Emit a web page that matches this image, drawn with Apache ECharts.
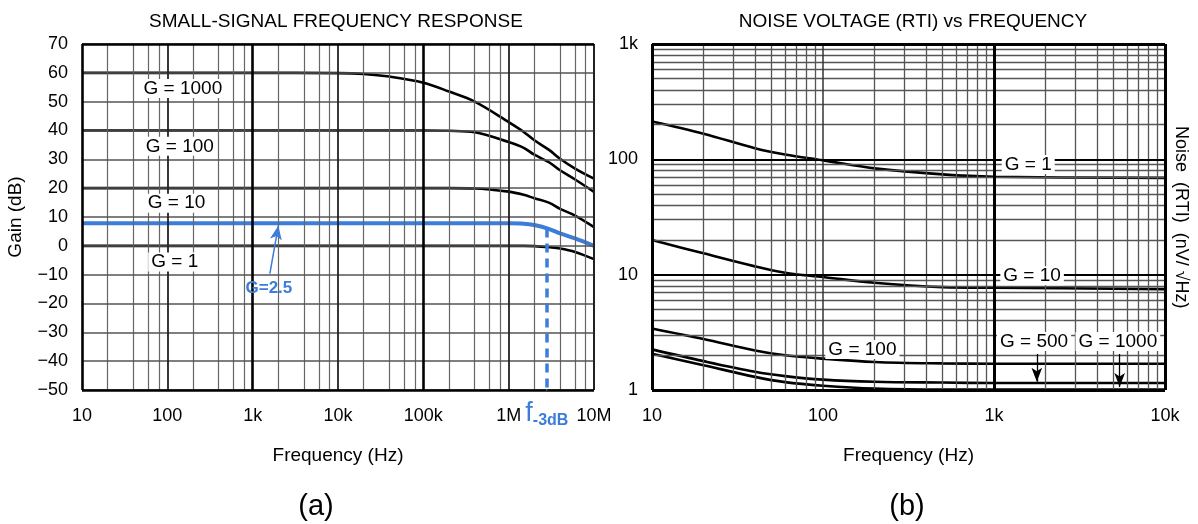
<!DOCTYPE html>
<html><head><meta charset="utf-8">
<script src="https://cdn.jsdelivr.net/npm/echarts@6/dist/echarts.min.js"></script>
<style>html,body{margin:0;padding:0;background:#fff}#c{width:1198px;height:524px}</style>
</head><body><div id="c"></div>
<script>
const FONT = '"Liberation Sans", Arial, sans-serif';
const BLUE = '#3b7dd8';

// ---------- (a) Small-signal frequency response ----------
const gainFreq  = [10, 100, 1e3, 1e4, 2e4, 4e4, 1e5, 2e5, 4e5, 1e6, 1.5e6, 2e6, 3e6, 4e6, 6e6, 1e7];
const gainG1000 = [60, 60, 60, 59.9, 59.6, 58.7, 56.6, 53.5, 50.0, 42.9, 39.5, 36.6, 33.2, 30.2, 26.8, 23.3];
const gainG100  = [40, 40, 40, 40, 40, 40, 40, 39.9, 39.4, 36.0, 34.0, 31.6, 28.9, 26.2, 23.0, 18.7];
const gainG10   = [20, 20, 20, 20, 20, 20, 20, 20, 19.9, 18.8, 17.7, 16.5, 14.9, 12.8, 10.5, 6.5];
const gainG2p5  = [7.8, 7.8, 7.8, 7.8, 7.8, 7.8, 7.8, 7.8, 7.8, 7.8, 7.7, 7.2, 5.8, 4.3, 2.6, 0];
const gainG1    = [0, 0, 0, 0, 0, 0, 0, 0, 0, 0, 0, -0.1, -0.5, -0.9, -2.1, -4.6];
const gainTicks = [-50, -40, -30, -20, -10, 0, 10, 20, 30, 40, 50, 60, 70];
const gainXTickLabels = {10:'10', 100:'100', 1000:'1k', 10000:'10k', 100000:'100k', 1000000:'1M', 10000000:'10M'};
const gainDecades = [10, 100, 1e3, 1e4, 1e5, 1e6, 1e7];
const f3dB = 2.8e6, f3dBGain = 6.0;
const gainLabels = [
  {name:'G = 1000', value:[152, 54.6]},
  {name:'G = 100',  value:[140, 34.5]},
  {name:'G = 10',   value:[128, 14.8]},
  {name:'G = 1',    value:[122, -5.6]}
];
const gainArrow = [[1590, -9.6], [2000, 7.0]];
const gainArrowLabel = {name:'G=2.5', value:[1550, -14.6]};

// ---------- (b) Noise voltage vs frequency ----------
const noiseFreq  = [10, 20, 40, 60, 100, 200, 500, 1000, 10000];
const noiseG1    = [213, 167, 125, 110, 98, 83.5, 74, 70.6, 69];
const noiseG10   = [20, 15.3, 11.8, 10.4, 9.55, 8.5, 7.8, 7.7, 7.5];
const noiseG100  = [3.42, 2.77, 2.2, 2.0, 1.87, 1.75, 1.7, 1.69, 1.69];
const noiseG500  = [2.25, 1.78, 1.44, 1.32, 1.23, 1.18, 1.16, 1.15, 1.15];
const noiseG1000 = [2.06, 1.64, 1.30, 1.17, 1.09, 1.03, 1.01, 1.01, 1.01];
const noiseXTickLabels = {10:'10', 100:'100', 1000:'1k', 10000:'10k'};
const noiseYTickLabels = {1:'1', 10:'10', 100:'100', 1000:'1k'};
const noiseXDecades = [10, 100, 1e3, 1e4];
const noiseYDecades = [1, 10, 100, 1e3];
const noiseLabels = [
  {name:'G = 1',    value:[1585, 90]},
  {name:'G = 10',   value:[1670, 9.8]},
  {name:'G = 100',  value:[170, 2.25]},
  {name:'G = 500',  value:[1715, 2.63]},
  {name:'G = 1000', value:[5300, 2.63]}
];
const noiseArrows = [
  [[1780, 2.05], [1780, 1.18]],
  [[5430, 2.05], [5430, 1.06]]
];

// helpers
const zip = (xs, ys) => xs.map((x, i) => [x, ys[i]]);
const minorOf = (decs, mults) => {
  const out = [];
  decs.slice(0, -1).forEach(d => mults.forEach(m => out.push(d * m)));
  return out;
};
const lookup = (tbl) => (v) => { const k = Math.round(v); return tbl[k] !== undefined ? tbl[k] : ''; };

const gridSeries = (xi, lines) => ({
  type: 'line', xAxisIndex: xi, yAxisIndex: xi, data: [], silent: true, z: 1,
  markLine: { silent: true, symbol: 'none', animation: false, label: {show: false}, data: lines }
});
const vline = (v, color, width) => ({xAxis: v, lineStyle: {color, width, type: 'solid'}});
const hline = (v, color, width) => ({yAxis: v, lineStyle: {color, width, type: 'solid'}});

const curve = (xi, xs, ys, color, width) => ({
  type: 'line', xAxisIndex: xi, yAxisIndex: xi, data: zip(xs, ys), smooth: 0.35,
  symbol: 'none', lineStyle: {color, width}, z: 4, silent: true
});
const labelSeries = (xi, data, color, extra) => ({
  type: 'scatter', xAxisIndex: xi, yAxisIndex: xi, data, symbolSize: 1, z: 5, silent: true,
  itemStyle: {color: '#fff', opacity: 1},
  label: Object.assign({show: true, position: 'inside', formatter: p => p.name, color, opacity: 1,
    textBorderWidth: 0, fontFamily: FONT, fontSize: 19, backgroundColor: '#fff', padding: [0, 3]}, extra || {})
});

// grid lines chart (a)
const gLinesA = [];
minorOf(gainDecades, [2, 4, 6, 8]).forEach(v => gLinesA.push(vline(v, '#666', 1.2)));
gainTicks.forEach(v => gLinesA.push(hline(v, '#555', 1.6)));
[100, 1e4, 1e6].forEach(v => gLinesA.push(vline(v, '#222', 1.8)));
[1e3, 1e5].forEach(v => gLinesA.push(vline(v, '#000', 2.6)));
gLinesA.push(vline(10, '#000', 2.6), vline(1e7, '#222', 2), hline(70, '#000', 2.6), hline(-50, '#000', 2.6));

// grid lines chart (b)
const gLinesB = [];
minorOf(noiseXDecades, [2,3,4,5,6,7,8,9]).forEach(v => gLinesB.push(vline(v, '#555', 1.3)));
minorOf(noiseYDecades, [2,3,4,5,6,7,8,9]).forEach(v => gLinesB.push(hline(v, '#555', 1.3)));
gLinesB.push(vline(100, '#333', 1.5), vline(1000, '#000', 3), hline(10, '#000', 2.2), hline(100, '#000', 2.2));
gLinesB.push(vline(10, '#000', 3), vline(1e4, '#000', 3), hline(1, '#000', 3), hline(1000, '#000', 3));

const axisLabel = {color: '#000', fontFamily: FONT, fontSize: 18};
const nameStyle = {color: '#000', fontFamily: FONT, fontSize: 19};

const option = {
  animation: false,
  backgroundColor: '#fff',
  title: [
    {text: 'SMALL-SIGNAL FREQUENCY RESPONSE', left: 331, top: 7, textAlign: 'center',
     textStyle: {fontFamily: FONT, fontSize: 19, fontWeight: 'normal', color: '#000'}},
    {text: 'NOISE VOLTAGE (RTI) vs FREQUENCY', left: 908, top: 7, textAlign: 'center',
     textStyle: {fontFamily: FONT, fontSize: 19, fontWeight: 'normal', color: '#000'}},
    {text: '(a)', left: 311, top: 487, textAlign: 'center',
     textStyle: {fontFamily: FONT, fontSize: 29, fontWeight: 'normal', color: '#000'}},
    {text: '(b)', left: 902, top: 487, textAlign: 'center',
     textStyle: {fontFamily: FONT, fontSize: 29, fontWeight: 'normal', color: '#000'}}
  ],
  grid: [
    {left: 82, right: 604, top: 44, bottom: 134, show: false},
    {left: 652, right: 33, top: 44, bottom: 134, show: false}
  ],
  xAxis: [
    {type: 'log', gridIndex: 0, logBase: 10, min: 10, max: 1e7, splitNumber: 6,
     axisLine: {show: false}, axisTick: {show: false}, splitLine: {show: false}, minorTick: {show: false},
     axisLabel: Object.assign({margin: 17, formatter: lookup(gainXTickLabels), showMinLabel: true, showMaxLabel: true}, axisLabel),
     name: 'Frequency (Hz)', nameLocation: 'middle', nameGap: 56, nameTextStyle: nameStyle},
    {type: 'log', gridIndex: 1, logBase: 10, min: 10, max: 1e4, splitNumber: 3,
     axisLine: {show: false}, axisTick: {show: false}, splitLine: {show: false},
     axisLabel: Object.assign({margin: 17, formatter: lookup(noiseXTickLabels), showMinLabel: true, showMaxLabel: true}, axisLabel),
     name: 'Frequency (Hz)', nameLocation: 'middle', nameGap: 56, nameTextStyle: nameStyle}
  ],
  yAxis: [
    {type: 'value', gridIndex: 0, min: -50, max: 70, interval: 10,
     axisLine: {show: false}, axisTick: {show: false}, splitLine: {show: false},
     axisLabel: Object.assign({margin: 14, formatter: v => String(v).replace('-', '\u2212')}, axisLabel),
     name: 'Gain (dB)', nameLocation: 'middle', nameGap: 57, nameRotate: 90, nameTextStyle: nameStyle},
    {type: 'log', gridIndex: 1, logBase: 10, min: 1, max: 1000, splitNumber: 3,
     axisLine: {show: false}, axisTick: {show: false}, splitLine: {show: false},
     axisLabel: Object.assign({margin: 14, formatter: lookup(noiseYTickLabels), showMinLabel: true, showMaxLabel: true}, axisLabel)}
  ],
  graphic: [
    {type: 'text', left: 1172, top: 126, rotation: -Math.PI / 2,
     style: {text: 'Noise  (RTI)  (nV/ √Hz)', font: '18px ' + FONT, fill: '#000'}}
  ],
  series: [
    gridSeries(0, gLinesA),
    gridSeries(1, gLinesB),
    // chart (a)
    curve(0, gainFreq, gainG1000, '#000', 2.6),
    curve(0, gainFreq, gainG100, '#000', 2.6),
    curve(0, gainFreq, gainG10, '#000', 2.6),
    curve(0, gainFreq, gainG1, '#000', 2.6),
    Object.assign(curve(0, gainFreq, gainG2p5, BLUE, 4), {
      markLine: {silent: true, animation: false, symbol: 'none', label: {show: false},
        data: [
          [{coord: [f3dB, f3dBGain], lineStyle: {color: BLUE, width: 3.5, type: [9, 6]}}, {coord: [f3dB, -50]}],
          [{coord: gainArrow[0], symbol: 'none', lineStyle: {color: BLUE, width: 1.5, type: 'solid'}},
           {coord: gainArrow[1], symbol: 'arrow', symbolSize: [9, 14]}]
        ]}
    }),
    labelSeries(0, gainLabels, '#000'),
    labelSeries(0, [gainArrowLabel], BLUE, {backgroundColor: 'transparent', fontWeight: 'bold', fontSize: 17}),
    labelSeries(0, [{name: 'f3dB', value: [f3dB, -50]}], BLUE, {
      backgroundColor: 'transparent', position: 'bottom', distance: 8,
      formatter: '{f|f}{s|-3dB}',
      rich: {f: {fontSize: 27, color: BLUE, fontFamily: FONT}, s: {fontSize: 16, fontWeight: 'bold', color: BLUE, fontFamily: FONT, padding: [14, 0, 0, 0]}}
    }),
    // chart (b)
    curve(1, noiseFreq, noiseG1, '#000', 2.6),
    curve(1, noiseFreq, noiseG10, '#000', 2.6),
    curve(1, noiseFreq, noiseG100, '#000', 2.6),
    Object.assign(curve(1, noiseFreq, noiseG500, '#000', 2.6), {
      markLine: {silent: true, animation: false, symbol: ['none', 'arrow'], symbolSize: [8, 14], label: {show: false},
        lineStyle: {color: '#000', width: 1.3, type: 'solid'},
        data: noiseArrows.map(a => [{coord: a[0]}, {coord: a[1]}])}
    }),
    curve(1, noiseFreq, noiseG1000, '#000', 2.6),
    labelSeries(1, noiseLabels, '#000')
  ]
};

const chart = echarts.init(document.getElementById('c'), null, {renderer: 'canvas'});
chart.setOption(option);
</script>
</body></html>
